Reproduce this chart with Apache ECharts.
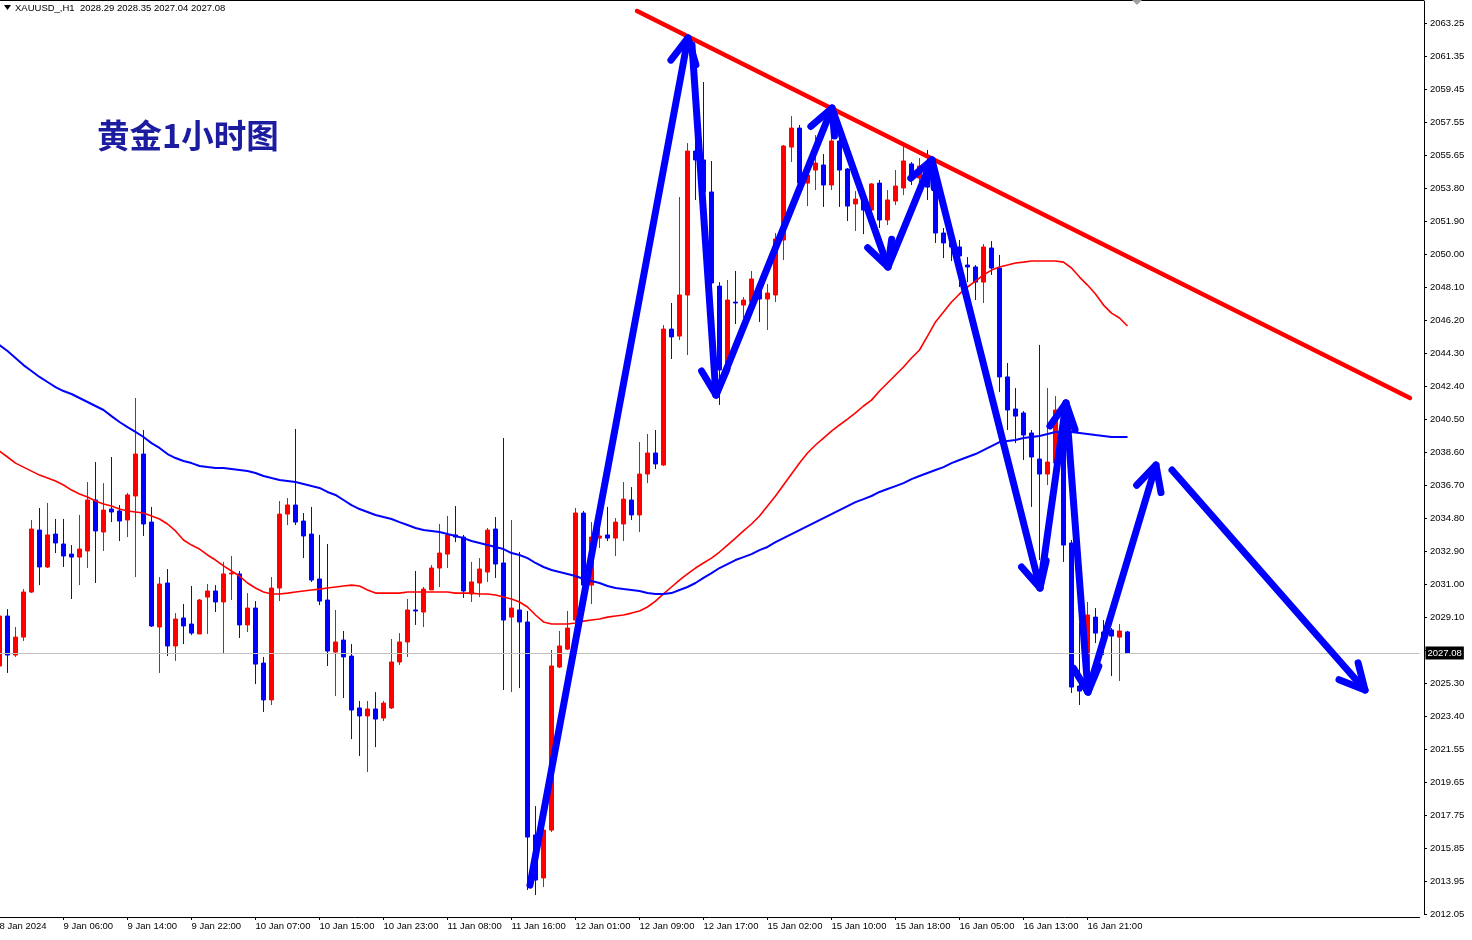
<!DOCTYPE html>
<html><head><meta charset="utf-8">
<script src="https://cdn.jsdelivr.net/npm/echarts@6/dist/echarts.min.js"></script>
<style>html,body{margin:0;padding:0;background:#fff;overflow:hidden}#c{width:1472px;height:940px}</style>
</head><body><div id="c"></div>
<script>
const symbolName = 'XAUUSD_,H1';
const titleText = '黄金1小时图';
const tickLabels = ['8 Jan 2024','9 Jan 06:00','9 Jan 14:00','9 Jan 22:00','10 Jan 07:00','10 Jan 15:00','10 Jan 23:00','11 Jan 08:00','11 Jan 16:00','12 Jan 01:00','12 Jan 09:00','12 Jan 17:00','15 Jan 02:00','15 Jan 10:00','15 Jan 18:00','16 Jan 05:00','16 Jan 13:00','16 Jan 21:00'];
const yTickLabels = ['2012.05','2013.95','2015.85','2017.75','2019.65','2021.55','2023.40','2025.30','2027.20','2029.10','2031.00','2032.90','2034.80','2036.70','2038.60','2040.50','2042.40','2044.30','2046.20','2048.10','2050.00','2051.90','2053.80','2055.65','2057.55','2059.45','2061.35','2063.25'];
// [open, close, low, high]
const candles = [
[2026.33,2029.20,2025.98,2029.83],[2029.20,2026.96,2025.93,2029.60],[2026.96,2027.99,2026.85,2028.57],[2027.99,2030.58,2027.77,2030.75],
[2030.58,2034.20,2030.52,2034.72],[2034.14,2032.02,2030.98,2035.41],[2032.02,2033.86,2031.96,2035.70],[2033.91,2033.40,2032.82,2034.78],
[2033.34,2032.65,2032.02,2034.78],[2032.76,2032.59,2030.18,2033.28],[2032.59,2033.05,2030.98,2035.01],[2032.94,2035.87,2031.96,2036.90],
[2035.87,2034.09,2031.10,2038.05],[2034.03,2035.29,2032.94,2036.84],[2035.35,2035.18,2034.60,2038.34],[2035.24,2034.66,2033.51,2035.58],
[2034.72,2036.16,2033.74,2036.27],[2036.10,2038.51,2031.44,2041.73],[2038.51,2034.49,2033.80,2039.89],[2034.60,2028.63,2028.57,2035.47],
[2028.57,2031.04,2025.93,2031.44],[2031.10,2027.48,2026.90,2031.90],[2027.48,2029.03,2026.62,2029.37],[2029.09,2028.63,2027.59,2029.89],
[2028.74,2028.22,2028.11,2030.93],[2028.17,2030.12,2028.17,2030.18],[2030.29,2030.64,2028.17,2031.04],[2030.64,2030.01,2029.43,2030.98],
[2030.01,2031.62,2027.02,2032.31],[2031.62,2031.67,2030.12,2032.65],[2031.62,2028.69,2027.94,2031.79],[2028.69,2029.66,2028.28,2030.52],
[2029.66,2026.44,2025.29,2030.06],[2026.50,2024.38,2023.69,2026.85],[2024.38,2030.81,2024.09,2031.44],[2030.81,2035.06,2030.06,2035.81],
[2035.06,2035.58,2034.43,2035.98],[2035.58,2034.60,2034.43,2039.95],[2034.66,2033.80,2032.53,2035.12],[2033.91,2031.27,2031.16,2035.47],
[2031.33,2030.06,2029.83,2033.86],[2030.12,2027.19,2026.33,2033.34],[2027.13,2027.71,2024.60,2029.55],[2027.82,2026.85,2024.49,2028.34],
[2026.90,2023.80,2022.13,2027.59],[2023.92,2023.46,2021.16,2024.32],[2023.46,2023.86,2020.24,2024.32],[2023.86,2023.28,2021.67,2024.83],
[2023.34,2024.20,2023.17,2024.32],[2023.92,2026.56,2023.86,2027.88],[2026.56,2027.71,2026.39,2028.22],[2027.71,2029.55,2026.85,2030.18],
[2029.55,2029.49,2028.69,2031.79],[2029.43,2030.75,2028.57,2030.87],[2030.70,2031.96,2030.70,2032.13],[2031.96,2032.82,2030.87,2034.49],
[2032.76,2033.86,2031.96,2034.95],[2033.86,2033.74,2033.45,2035.52],[2033.74,2030.64,2030.24,2033.86],[2030.47,2031.16,2030.01,2032.31],
[2031.10,2031.90,2030.29,2032.53],[2031.73,2034.14,2031.16,2034.26],[2034.20,2032.19,2031.39,2034.89],[2032.25,2028.97,2024.95,2039.43],
[2029.14,2029.66,2024.83,2034.72],[2029.55,2028.86,2025.06,2032.88],[2028.86,2016.50,2013.46,2029.49],[2016.62,2014.03,2013.17,2018.28],
[2014.15,2016.90,2013.63,2017.02],[2016.90,2026.33,2016.79,2027.25],[2026.27,2027.48,2026.21,2028.34],[2027.30,2028.51,2027.25,2029.49],
[2028.97,2035.12,2028.86,2035.41],[2035.12,2030.98,2030.70,2035.24],[2030.98,2033.74,2029.89,2034.60],[2033.68,2033.80,2033.11,2034.60],
[2033.86,2033.68,2033.51,2035.47],[2033.68,2034.60,2032.65,2034.83],[2034.49,2035.92,2033.51,2036.90],[2035.87,2035.01,2034.72,2036.61],
[2035.01,2037.36,2034.03,2039.20],[2037.36,2038.57,2036.84,2039.66],[2038.57,2037.94,2037.65,2039.89],[2037.88,2045.69,2037.82,2045.92],
[2045.69,2045.24,2043.97,2047.19],[2045.29,2047.65,2045.06,2053.28],[2047.65,2055.92,2044.20,2056.38],[2055.92,2055.41,2053.11,2058.85],
[2055.41,2053.57,2053.11,2059.89],[2053.57,2048.34,2047.94,2055.35],[2048.16,2043.34,2041.33,2048.39],[2043.74,2047.36,2043.45,2048.51],
[2047.24,2047.19,2045.98,2049.03],[2047.07,2047.36,2046.33,2047.53],[2047.24,2048.57,2047.07,2049.03],[2047.94,2047.42,2046.10,2048.34],
[2047.42,2047.76,2045.64,2048.28],[2047.65,2050.87,2047.24,2051.21],[2050.81,2056.21,2049.66,2056.27],[2056.15,2057.24,2055.29,2057.93],
[2057.24,2054.08,2053.39,2057.42],[2054.08,2054.54,2052.76,2055.41],[2054.83,2055.23,2053.68,2056.84],[2055.12,2053.97,2052.71,2055.75],
[2053.97,2056.50,2053.68,2057.70],[2056.50,2054.83,2052.71,2056.96],[2054.89,2052.76,2051.90,2054.95],[2052.88,2053.16,2051.33,2053.62],
[2053.11,2052.53,2051.15,2053.34],[2052.53,2054.03,2052.25,2054.08],[2054.08,2051.96,2051.50,2054.26],[2051.96,2053.11,2051.67,2053.68],
[2053.05,2053.91,2052.82,2054.83],[2053.80,2055.35,2053.39,2056.27],[2055.18,2054.26,2053.97,2055.29],[2054.37,2055.06,2053.68,2055.52],
[2055.06,2053.85,2053.11,2055.98],[2053.85,2051.21,2050.64,2054.26],[2051.21,2050.64,2049.77,2051.50],[2050.64,2050.41,2049.60,2051.44],
[2050.41,2049.89,2048.11,2050.81],[2049.37,2049.26,2048.39,2049.83],[2049.26,2048.39,2047.36,2049.37],[2048.39,2050.41,2047.19,2050.58],
[2050.35,2049.20,2048.80,2050.75],[2049.20,2042.94,2042.07,2049.95],[2042.94,2041.04,2039.89,2043.74],[2041.10,2040.69,2039.14,2042.30],
[2040.87,2039.60,2038.17,2040.98],[2039.72,2038.34,2035.47,2039.89],[2038.22,2037.36,2032.42,2044.78],[2037.36,2038.05,2036.73,2042.30],
[2037.99,2041.04,2037.59,2041.84],[2040.92,2033.28,2032.31,2041.61],[2033.40,2025.12,2024.78,2033.57],[2025.18,2024.89,2024.09,2028.80],
[2024.95,2029.26,2024.66,2030.01],[2029.14,2028.22,2027.65,2029.66],[2028.28,2028.05,2026.96,2028.97],[2028.40,2028.05,2025.75,2028.51],
[2027.99,2028.34,2025.47,2028.74],[2028.29,2027.08,2027.04,2028.35]
];
const maRed = [
2038.68,2038.34,2037.99,2037.76,2037.53,2037.30,2037.13,2036.96,2036.73,2036.44,
2036.21,2036.04,2035.81,2035.64,2035.52,2035.35,2035.24,2035.18,2035.12,2034.95,
2034.78,2034.49,2034.09,2033.57,2033.28,2033.05,2032.71,2032.42,2032.08,2031.79,
2031.50,2031.10,2030.81,2030.58,2030.47,2030.47,2030.52,2030.58,2030.64,2030.70,
2030.75,2030.81,2030.87,2030.93,2030.98,2030.93,2030.70,2030.52,2030.52,2030.52,
2030.52,2030.58,2030.58,2030.58,2030.58,2030.58,2030.58,2030.52,2030.52,2030.52,
2030.47,2030.47,2030.41,2030.29,2030.18,2030.01,2029.72,2029.26,2028.86,2028.74,
2028.74,2028.74,2028.80,2028.91,2028.97,2029.03,2029.14,2029.20,2029.26,2029.37,
2029.49,2029.72,2030.06,2030.47,2030.87,2031.27,2031.62,2031.96,2032.25,2032.53,
2032.88,2033.28,2033.68,2034.09,2034.49,2034.95,2035.52,2036.10,2036.73,2037.36,
2037.99,2038.57,2039.03,2039.43,2039.83,2040.18,2040.52,2040.87,2041.27,2041.61,
2042.13,2042.59,2043.05,2043.51,2044.03,2044.49,2045.29,2046.10,2046.67,2047.25,
2047.71,2048.11,2048.45,2048.80,2049.08,2049.26,2049.37,2049.49,2049.54,2049.60,
2049.60,2049.60,2049.60,2049.54,2049.20,2048.68,2048.22,2047.71,2047.07,2046.61,
2046.33,2045.87
];
const maBlue = [
2044.77,2044.43,2044.03,2043.62,2043.28,2042.94,2042.65,2042.36,2042.13,2041.96,
2041.73,2041.50,2041.27,2041.04,2040.69,2040.35,2040.06,2039.78,2039.49,2039.14,
2038.86,2038.51,2038.28,2038.11,2037.99,2037.82,2037.76,2037.71,2037.71,2037.65,
2037.59,2037.53,2037.42,2037.25,2037.13,2037.02,2036.96,2036.90,2036.79,2036.67,
2036.56,2036.33,2036.16,2035.87,2035.58,2035.35,2035.18,2035.01,2034.89,2034.78,
2034.60,2034.43,2034.26,2034.14,2034.09,2034.03,2033.91,2033.80,2033.68,2033.51,
2033.40,2033.28,2033.17,2033.05,2032.82,2032.71,2032.53,2032.25,2032.02,2031.85,
2031.73,2031.62,2031.50,2031.33,2031.21,2031.10,2030.93,2030.81,2030.75,2030.70,
2030.64,2030.52,2030.47,2030.47,2030.52,2030.70,2030.87,2031.10,2031.39,2031.67,
2031.96,2032.19,2032.42,2032.59,2032.76,2032.99,2033.17,2033.45,2033.68,2033.91,
2034.14,2034.37,2034.60,2034.83,2035.06,2035.29,2035.52,2035.75,2035.92,2036.10,
2036.33,2036.50,2036.67,2036.84,2037.07,2037.25,2037.42,2037.59,2037.76,2037.99,
2038.17,2038.34,2038.51,2038.74,2038.97,2039.20,2039.26,2039.32,2039.43,2039.49,
2039.55,2039.66,2039.78,2039.78,2039.78,2039.72,2039.66,2039.60,2039.55,2039.49,
2039.49,2039.49
];
// drawn annotations: [barIndex, price]
const trendLine = [[79.69, 2063.97], [176.31, 2041.73]];
// arrows: [fromBar, fromPrice, toBar, toPrice]
const arrows = [
[66.31,2013.74, 86.06,2062.42],
[86.56,2062.01, 89.56,2041.90],
[89.56,2041.90, 104.06,2058.39],
[104.06,2058.39, 111.06,2049.26],
[111.06,2049.26, 116.56,2055.41],
[116.56,2055.41, 130.06,2030.81],
[130.06,2030.81, 133.31,2041.44],
[133.31,2041.44, 136.06,2024.83],
[136.06,2024.83, 144.56,2037.88],
[146.56,2037.59, 170.69,2024.95]
];

const totalSlots = 178;
const barsPerTick = 8;
const yMin = 2012.05;
const yStep = (2063.25 - 2012.05) / 27;
const yMax = 2064.544;
const last = candles[candles.length - 1];
const lastClose = last[1];
const slots = Array.from({length: totalSlots}, (_, i) => String(i));
const fontFam = '"Liberation Sans", Arial, sans-serif';
const showTick = (i) => i % barsPerTick === 0 && i / barsPerTick < tickLabels.length;

const chart = echarts.init(document.getElementById('c'), null, {renderer: 'canvas'});
chart.setOption({
  animation: false,
  backgroundColor: '#ffffff',
  grid: {left: -4.5, right: 52.5, top: 1, bottom: 25.5, containLabel: false, outerBoundsMode: 'none'},
  xAxis: [{
    type: 'category', data: slots, boundaryGap: true, offset: 2.5,
    axisLine: {show: true, onZero: false, lineStyle: {color: '#000', width: 1}},
    axisTick: {show: true, alignWithLabel: true, length: 3, lineStyle: {color: '#000'}, interval: showTick},
    axisLabel: {
      interval: showTick,
      formatter: (v, i) => tickLabels[i / barsPerTick] || '',
      align: 'left', margin: 4, color: '#000', fontSize: 9.5, fontFamily: fontFam
    },
    splitLine: {show: false}
  }, {
    type: 'value', min: -0.5, max: totalSlots - 0.5, show: false,
    axisLine: {onZero: false}
  }],
  yAxis: [{
    type: 'value', position: 'right', offset: 4.5, scale: true,
    min: yMin, max: yMax, interval: yStep,
    axisLine: {show: true, onZero: false, lineStyle: {color: '#000', width: 1}},
    axisTick: {show: true, inside: false, length: 3, lineStyle: {color: '#000'}},
    axisLabel: {
      showMaxLabel: false, margin: 6, color: '#000', fontSize: 9.5, fontFamily: fontFam,
      formatter: (v) => {
        if (Math.abs(v - lastClose) < 0.6) return '';
        const k = Math.round((v - yMin) / yStep);
        return yTickLabels[k] || '';
      }
    },
    splitLine: {show: false}
  }],
  series: [
    {
      type: 'candlestick', xAxisIndex: 0, yAxisIndex: 0, data: candles,
      barWidth: 4, silent: true,
      itemStyle: {color: '#ff0000', color0: '#0000ff', borderColor: '#ff0000', borderColor0: '#0000ff', borderWidth: 1},
      markLine: {
        silent: true, symbol: ['none', 'none'], animation: false,
        data: [{yAxis: lastClose}],
        lineStyle: {color: '#c0c0c0', width: 1, type: 'solid'},
        label: {position: 'end', distance: 6, formatter: () => lastClose.toFixed(2),
          backgroundColor: '#000', color: '#fff', padding: [2, 2, 1, 2], fontSize: 9.5, fontFamily: fontFam}
      },
      z: 2
    },
    {type: 'line', xAxisIndex: 0, data: maRed, showSymbol: false, symbol: 'none', silent: true,
      lineStyle: {color: '#ff0000', width: 1.6}, z: 3},
    {type: 'line', xAxisIndex: 0, data: maBlue, showSymbol: false, symbol: 'none', silent: true,
      lineStyle: {color: '#0000ff', width: 2}, z: 3},
    {type: 'line', xAxisIndex: 1, data: trendLine, showSymbol: false, symbol: 'none', silent: true,
      lineStyle: {color: '#ff0000', width: 4.5, cap: 'round'}, z: 4},
    {
      type: 'custom', xAxisIndex: 1, yAxisIndex: 0, data: arrows, silent: true, z: 5, clip: false,
      renderItem: (params, api) => {
        const p0 = api.coord([api.value(0), api.value(1)]);
        const p1 = api.coord([api.value(2), api.value(3)]);
        const dx = p1[0] - p0[0], dy = p1[1] - p0[1];
        const len = Math.hypot(dx, dy);
        const bx = -dx / len, by = -dy / len;
        const L = 28, a = 27 * Math.PI / 180;
        const w = (s) => [p1[0] + L * (bx * Math.cos(s * a) - by * Math.sin(s * a)),
                          p1[1] + L * (bx * Math.sin(s * a) + by * Math.cos(s * a))];
        const st = {stroke: '#0000ff', lineWidth: 7, fill: null, lineCap: 'round', lineJoin: 'round'};
        return {type: 'group', children: [
          {type: 'polyline', shape: {points: [p0, p1]}, style: st},
          {type: 'polyline', shape: {points: [w(1), p1, w(-1)]}, style: st}
        ]};
      }
    }
  ],
  graphic: [
    {type: 'line', shape: {x1: 0, y1: 0.5, x2: 1424, y2: 0.5}, style: {stroke: '#000', lineWidth: 1}, silent: true},
    {type: 'polygon', shape: {points: [[4, 5], [11, 5], [7.5, 10]]}, style: {fill: '#000'}, silent: true},
    {type: 'text', x: 15, y: 3, silent: true,
      style: {text: symbolName + '  ' + [last[0], last[3], last[2], last[1]].map(v => v.toFixed(2)).join(' '),
        font: '9.5px ' + fontFam, fill: '#000', verticalAlign: 'top'}},
    {type: 'polygon', shape: {points: [[1132, 0], [1142, 0], [1137, 5]]}, style: {fill: '#a0a0a0'}, silent: true},
    {type: 'text', x: 97, y: 119, silent: true,
      style: {text: titleText, font: 'bold 32.5px "Noto Sans CJK SC"', fill: '#1c1ca0', verticalAlign: 'top'}}
  ]
});
</script>
</body></html>
